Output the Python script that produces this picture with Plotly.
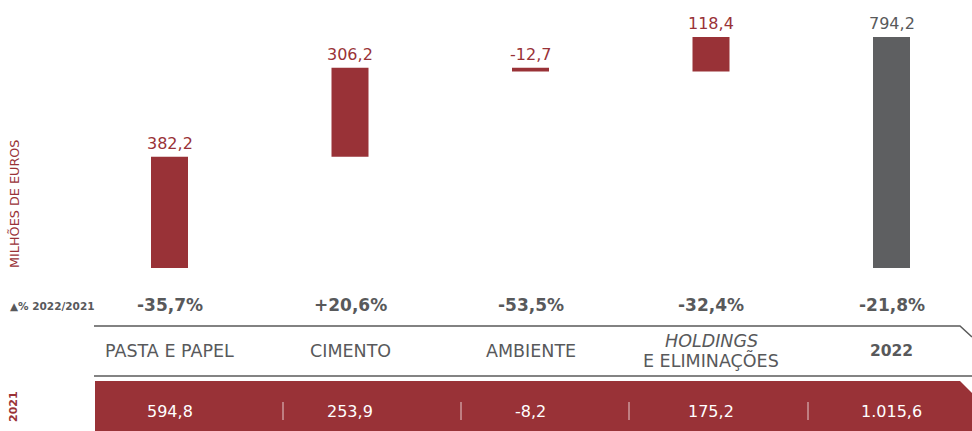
import plotly.graph_objects as go

# ---- data ----
categories = ["PASTA E PAPEL", "CIMENTO", "AMBIENTE", "HOLDINGS", "2022"]
category_sub = ["", "", "", "E ELIMINAÇÕES", ""]
measures = ["relative", "relative", "relative", "relative", "total"]
values_2022 = [382.2, 306.2, -12.7, 118.4, 794.2]
pct_change = ["-35,7%", "+20,6%", "-53,5%", "-32,4%", "-21,8%"]
values_2021 = [594.8, 253.9, -8.2, 175.2, 1015.6]

RED = "#993237"
GRAY_BAR = "#5e5f61"
TXT = "#58595b"
FONT = "DejaVu Sans"

W, H = 972, 431


def pt(v):
    s = f"{abs(v):,.1f}".replace(",", "X").replace(".", ",").replace("X", ".")
    return ("-" if v < 0 else "") + s


def px(x):
    return x / W


def py(y):
    return 1 - y / H


idx = list(range(len(categories)))

fig = go.Figure()
fig.add_trace(go.Waterfall(
    x=idx,
    y=values_2022,
    measure=measures,
    width=0.205,
    increasing=dict(marker=dict(color=RED)),
    decreasing=dict(marker=dict(color=RED)),
    totals=dict(marker=dict(color=GRAY_BAR)),
    connector=dict(visible=False),
    hoverinfo="skip",
))

annotations = []
cum = 0
for i, (m, v) in enumerate(zip(measures, values_2022)):
    if m == "total":
        top = v
        col = TXT
    else:
        top = max(cum, cum + v)
        cum += v
        col = RED
    annotations.append(dict(x=i, y=top, xref="x", yref="y", text=pt(v), showarrow=False,
                            xanchor="center", yanchor="bottom", yshift=2,
                            font=dict(family=FONT, size=16, color=col)))

for i, p in enumerate(pct_change):
    annotations.append(dict(x=i, y=py(305), xref="x", yref="paper", text=f"<b>{p}</b>",
                            showarrow=False, xanchor="center", yanchor="middle",
                            font=dict(family=FONT, size=17, color=TXT)))

for i, (c, s) in enumerate(zip(categories, category_sub)):
    if s:
        annotations.append(dict(x=i, y=py(341), xref="x", yref="paper", text=f"<i>{c}</i>",
                                showarrow=False, xanchor="center", yanchor="middle",
                                font=dict(family=FONT, size=17.5, color=TXT)))
        annotations.append(dict(x=i, y=py(360), xref="x", yref="paper", text=s,
                                showarrow=False, xanchor="center", yanchor="middle",
                                font=dict(family=FONT, size=17.5, color=TXT)))
    elif measures[i] == "total":
        annotations.append(dict(x=i, y=py(351), xref="x", yref="paper", text=f"<b>{c}</b>",
                                showarrow=False, xanchor="center", yanchor="middle",
                                font=dict(family=FONT, size=15.5, color=TXT)))
    else:
        annotations.append(dict(x=i, y=py(351), xref="x", yref="paper", text=c,
                                showarrow=False, xanchor="center", yanchor="middle",
                                font=dict(family=FONT, size=17.5, color=TXT)))

for i, v in enumerate(values_2021):
    annotations.append(dict(x=i, y=py(411), xref="x", yref="paper", text=pt(v), showarrow=False,
                            xanchor="center", yanchor="middle",
                            font=dict(family=FONT, size=16, color="white")))

annotations += [
    dict(x=px(8), y=py(306), xref="paper", yref="paper", text="<b>▲% 2022/2021</b>",
         showarrow=False, xanchor="left", yanchor="middle",
         font=dict(family=FONT, size=10.5, color=TXT)),
    dict(x=px(15), y=py(204), xref="paper", yref="paper", text="MILHÕES DE EUROS",
         showarrow=False, textangle=-90, xanchor="center", yanchor="middle",
         font=dict(family=FONT, size=12.8, color=RED)),
    dict(x=px(13), y=py(407), xref="paper", yref="paper", text="<b>2021</b>",
         showarrow=False, textangle=-90, xanchor="center", yanchor="middle",
         font=dict(family=FONT, size=11, color=RED)),
]

shapes = [
    dict(type="path", xref="paper", yref="paper",
         path=f"M {px(94)} {py(326)} L {px(960)} {py(326)} L {px(972)} {py(337)}",
         line=dict(color="#5a5a5a", width=1.5)),
    dict(type="line", xref="paper", yref="paper", x0=px(94), x1=px(972), y0=py(376), y1=py(376),
         line=dict(color="#5a5a5a", width=1.5)),
    dict(type="path", xref="paper", yref="paper",
         path=(f"M {px(95)} {py(381)} L {px(960)} {py(381)} L {px(972)} {py(393)} "
               f"L {px(972)} {py(431)} L {px(95)} {py(431)} Z"),
         fillcolor=RED, line=dict(width=0)),
]
for sx in [283, 461, 629, 808]:
    shapes.append(dict(type="line", xref="paper", yref="paper", x0=px(sx), x1=px(sx),
                       y0=py(402), y1=py(420), line=dict(color="rgba(255,255,255,0.75)", width=1)))

slot = 180.5
x0 = -169.5 / slot
x1 = x0 + W / slot
ppu = 231 / 794.2
y1 = 794.2 + 37 / ppu
y0 = y1 - H / ppu

fig.update_layout(
    width=W, height=H,
    margin=dict(l=0, r=0, t=0, b=0),
    paper_bgcolor="white", plot_bgcolor="white",
    showlegend=False,
    hovermode=False,
    xaxis=dict(range=[x0, x1], visible=False, fixedrange=True),
    yaxis=dict(range=[y0, y1], visible=False, fixedrange=True),
    annotations=annotations,
    shapes=shapes,
)

fig.write_html(
    "out.html",
    config={"displayModeBar": False, "staticPlot": True},
    post_script="document.body.style.margin='0';document.body.style.overflow='hidden';",
)
